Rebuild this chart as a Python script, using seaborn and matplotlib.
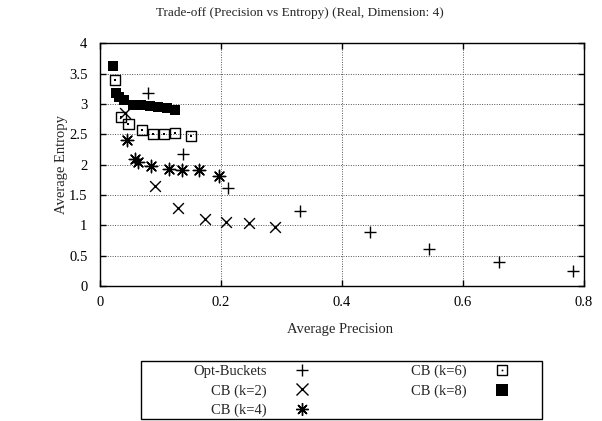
import matplotlib
matplotlib.use("Agg")
import matplotlib.pyplot as plt
import seaborn as sns
import numpy as np
import pandas as pd
from matplotlib.legend_handler import HandlerTuple
from matplotlib.lines import Line2D
from matplotlib.patches import Rectangle

sns.set_theme(style="white")
plt.rcParams['font.family'] = ['Liberation Serif', 'DejaVu Serif']

# Data
opt_x = [0.079, 0.138, 0.211, 0.331, 0.446, 0.543, 0.660, 0.781]
opt_y = [3.18, 2.18, 1.61, 1.24, 0.89, 0.61, 0.40, 0.24]

cb2_x = [0.041, 0.091, 0.129, 0.174, 0.208, 0.247, 0.289]
cb2_y = [2.85, 1.65, 1.29, 1.11, 1.05, 1.04, 0.97]

cb4_x = [0.044, 0.058, 0.062, 0.085, 0.114, 0.136, 0.164, 0.196]
cb4_y = [2.41, 2.10, 2.05, 1.98, 1.93, 1.91, 1.91, 1.82]

cb6_x = [0.025, 0.035, 0.047, 0.069, 0.088, 0.106, 0.124, 0.150]
cb6_y = [3.39, 2.78, 2.67, 2.57, 2.50, 2.50, 2.52, 2.47]

cb8_x = [0.022, 0.026, 0.031, 0.040, 0.055, 0.068, 0.082, 0.096, 0.110, 0.124]
cb8_y = [3.62, 3.18, 3.12, 3.07, 2.99, 2.98, 2.96, 2.95, 2.93, 2.90]

labels = ["Opt-Buckets", "CB (k=2)", "CB (k=4)", "CB (k=6)", "CB (k=8)"]
x_ticks = [0, 0.2, 0.4, 0.6, 0.8]
x_ticklabels = ["0", "0.2", "0.4", "0.6", "0.8"]
y_ticks = [0, 0.5, 1, 1.5, 2, 2.5, 3, 3.5, 4]
y_ticklabels = ["0", "0.5", "1", "1.5", "2", "2.5", "3", "3.5", "4"]

W, H = 602, 421
fig = plt.figure(figsize=(6.02, 4.21), dpi=100)
ax = fig.add_axes([100/W, 1-286/H, 484/W, (286-43.3)/H])

sns.scatterplot(x=opt_x, y=opt_y, marker='+', s=80, color='black', linewidth=1, ax=ax, zorder=3)
sns.scatterplot(x=cb2_x, y=cb2_y, marker='x', s=60, color='black', linewidth=1, ax=ax, zorder=3)
sns.scatterplot(x=cb4_x, y=cb4_y, marker=(8, 2, 0), s=80, color='black', linewidth=1, ax=ax, zorder=3)
sns.scatterplot(x=cb6_x, y=cb6_y, marker='s', s=55, facecolor='none', edgecolor='black', linewidth=1, ax=ax, zorder=3)
sns.scatterplot(x=cb6_x, y=cb6_y, marker='s', s=1.5, color='black', linewidth=0, ax=ax, zorder=3)
sns.scatterplot(x=cb8_x, y=cb8_y, marker='s', s=45, color='black', linewidth=0, ax=ax, zorder=3)

ax.set_xlim(0, 0.8)
ax.set_ylim(0, 4)
ax.set_xticks(x_ticks)
ax.set_xticklabels(x_ticklabels)
ax.set_yticks(y_ticks)
ax.set_yticklabels(y_ticklabels)
ax.tick_params(direction='in', length=4, width=1, top=True, right=True, bottom=True, left=True,
               labeltop=False, labelright=False, labelsize=10.5, colors='black')
ax.tick_params(axis='x', pad=7)
ax.tick_params(axis='y', pad=9)
ax.grid(True, linestyle=(0, (1, 1.5)), color='#555555', linewidth=0.7)
for sp in ax.spines.values():
    sp.set_color('black')
    sp.set_linewidth(1)

ax.set_xlabel("Average Precision", fontsize=10.5)
ax.set_ylabel("Average Entropy", fontsize=10.5)
ax.xaxis.label.set_va('center')
ax.yaxis.label.set_va('center')
ax.xaxis.set_label_coords((340-100)/484, (286-330)/242.7)
ax.yaxis.set_label_coords((61-100)/484, (286-165)/242.7)
fig.text(300/W, 1-13/H, "Trade-off (Precision vs Entropy) (Real, Dimension: 4)",
         ha='center', va='center', fontsize=9.5)

# Legend
h_opt = Line2D([], [], marker='+', ls='', color='black', markersize=9, mew=1)
h_cb2 = Line2D([], [], marker='x', ls='', color='black', markersize=8, mew=1)
h_cb4 = Line2D([], [], marker=(8, 2, 0), ls='', color='black', markersize=9, mew=1)
h_cb6a = Line2D([], [], marker='s', ls='', mfc='none', mec='black', markersize=7.5, mew=1)
h_cb6b = Line2D([], [], marker='s', ls='', color='black', markersize=1.2, mew=0)
h_cb8 = Line2D([], [], marker='s', ls='', color='black', markersize=8, mew=0)

fig.patches.append(Rectangle((141/W, 1-419/H), 401/W, 58/H, transform=fig.transFigure,
                             fill=False, edgecolor='black', linewidth=1))

leg = fig.legend([h_opt, h_cb2, h_cb4, (h_cb6a, h_cb6b), h_cb8], labels,
                 handler_map={tuple: HandlerTuple(ndivide=1)},
                 ncol=2, markerfirst=False, loc='upper left',
                 bbox_to_anchor=(193/W, 1-365/H),
                 fontsize=10.5, frameon=False,
                 borderaxespad=0, borderpad=0, labelspacing=0.4, handlelength=2.0,
                 handletextpad=1.45, columnspacing=6.45)

fig.savefig("out.png", dpi=100)
